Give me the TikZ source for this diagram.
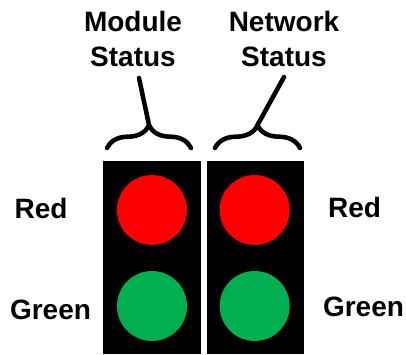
\documentclass[tikz,border=0pt]{standalone}
\usepackage{fontspec}
\setmainfont{Liberation Sans}
\usepackage{tikz}
\usetikzlibrary{decorations.pathreplacing}
\definecolor{ledred}{HTML}{FF0000}
\definecolor{ledgreen}{HTML}{00B050}

\begin{document}
\begin{tikzpicture}[x=0.75pt, y=-0.75pt, line width=3.4pt,
      lbl/.style={font=\bfseries\fontsize{21}{26.25}\selectfont, inner sep=0pt},
      panel/.style={fill=black, minimum width=73pt, minimum height=144.75pt,
                    inner sep=0pt},
      lamp/.style={circle, minimum size=52.5pt, inner sep=0pt},
      brc/.style={decorate, decoration={brace, amplitude=17pt}, line cap=round}]
    \useasboundingbox (0,0) rectangle (406,354);
    % status panels
    \node[panel] (modpanel) at (152,257.5) {};
    \node[panel] (netpanel) at (255.5,257.5) {};
    \node[lamp, fill=ledred] (modred) at (152,210) {};
    \node[lamp, fill=ledgreen] (modgreen) at (152,306) {};
    \node[lamp, fill=ledred] (netred) at (254.7,210) {};
    \node[lamp, fill=ledgreen] (netgreen) at (254.7,306) {};
    % side labels
    \node[lbl, anchor=base] (lred) at (41,218) {Red};
    \node[lbl, anchor=base] (lgreen) at (50.5,319) {Green};
    \node[lbl, anchor=base] (rred) at (354.5,217) {Red};
    \node[lbl, anchor=base] (rgreen) at (363.5,316) {Green};
    % top labels
    \node[lbl, align=center, anchor=north] (modlbl) at (133,9) {Module\\Status};
    \node[lbl, align=center, anchor=north] (netlbl) at (284,9) {Network\\Status};
    % braces
    \coordinate (modL) at (107,148); \coordinate (modR) at (191,148);
    \coordinate (netL) at (215,148); \coordinate (netR) at (300,148);
    \coordinate (modtip) at (149,125); \coordinate (modend) at (139,78);
    \coordinate (nettip) at (257.5,125); \coordinate (netend) at (284,77);
    \draw[brc] (modL)--(modR); \draw[brc] (netL)--(netR);
    \draw[line cap=round] (modtip)--(modend);
    \draw[line cap=round] (nettip)--(netend);
  \end{tikzpicture}
\end{document}
